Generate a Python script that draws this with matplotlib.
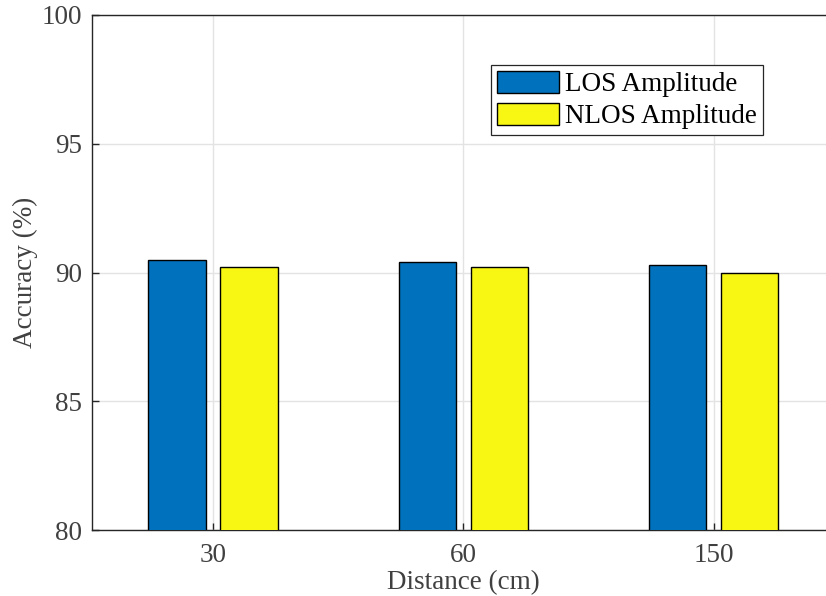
import matplotlib
matplotlib.use("Agg")
import matplotlib.pyplot as plt
import numpy as np

categories = ["30", "60", "150"]
los_values = [90.5, 90.4, 90.3]
nlos_values = [90.2, 90.2, 90.0]
series_labels = ["LOS Amplitude", "NLOS Amplitude"]
y_ticks = [80, 85, 90, 95, 100]

plt.rcParams['font.family'] = ['Liberation Serif', 'DejaVu Serif']
fs = 19.5
plt.rcParams['font.size'] = fs
txt = '#404040'

fig = plt.figure(figsize=(8.26, 5.96), dpi=100)
ax = fig.add_axes([92/826, 66/596, 742.6/826, 515/596])

x = np.arange(1, len(categories) + 1)
off = 0.1438
w = 0.229
ax.bar(x - off, los_values, w, color='#0072BD', edgecolor='black', linewidth=1.0,
       label=series_labels[0], zorder=3)
ax.bar(x + off, nlos_values, w, color='#F7F713', edgecolor='black', linewidth=1.0,
       label=series_labels[1], zorder=3)

ax.set_xlim(0.5166, 3.4834)
ax.set_ylim(80, 100)
ax.set_yticks(y_ticks)
ax.set_xticks(x)
ax.set_xticklabels(categories)
ax.grid(True, color='#E3E3E3', linewidth=1.0, zorder=0)
ax.set_axisbelow(True)
ax.tick_params(direction='in', length=5, width=1, colors='#262626', labelcolor=txt,
               labelsize=fs, top=False, right=False)
ax.tick_params(axis='x', pad=9)
ax.tick_params(axis='y', pad=7)
for s in ['left', 'bottom', 'top', 'right']:
    ax.spines[s].set_color('#262626')
    ax.spines[s].set_linewidth(1.0)

ax.set_xlabel("Distance (cm)", fontsize=fs, color=txt, labelpad=2)
ax.set_ylabel("Accuracy (%)", fontsize=fs, color=txt, labelpad=3)

leg = ax.legend(loc='upper left', bbox_to_anchor=(491/826, 1 - 65/596),
                bbox_transform=fig.transFigure, borderaxespad=0,
                fontsize=fs, handlelength=2.3, handleheight=0.85,
                handletextpad=0.2, labelspacing=0.22, borderpad=0.22,
                fancybox=False, framealpha=1, edgecolor='#262626')
leg.get_frame().set_linewidth(0.9)
for t in leg.get_texts():
    t.set_color('black')

fig.savefig("out.png", dpi=100)
